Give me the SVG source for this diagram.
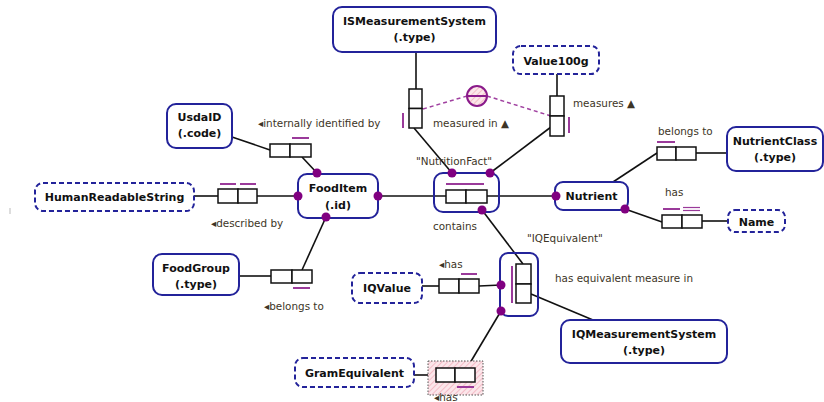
<svg xmlns="http://www.w3.org/2000/svg" width="824" height="402" viewBox="0 0 824 402">
  <style>
    .et { fill: #fff; stroke: #23239a; stroke-width: 2; }
    .vt { fill: #fff; stroke: #23239a; stroke-width: 2; stroke-dasharray: 5 3; }
    .obj { fill: none; stroke: #23239a; stroke-width: 2; }
    .role { fill: #fff; stroke: #111; stroke-width: 1.5; }
    .ln { stroke: #111; stroke-width: 1.6; fill: none; }
    .uc { stroke: #9a3a9a; stroke-width: 2; fill: none; }
    .dot { fill: #800080; }
    .cn { stroke: #a040a0; stroke-width: 1.5; stroke-dasharray: 4 3; fill: none; }
    .name { font-family: "DejaVu Sans", Verdana, sans-serif; font-size: 11px; font-weight: bold; fill: #111; text-anchor: middle; }
    .rd { font-family: "DejaVu Sans", Verdana, sans-serif; font-size: 10.4px; fill: #3d3526; }
  </style>
  <defs>
    <pattern id="hatch" width="4" height="4" patternUnits="userSpaceOnUse" patternTransform="rotate(45)">
      <rect width="4" height="4" fill="#fbe6ea"/>
      <line x1="0" y1="0" x2="0" y2="4" stroke="#f0a0b0" stroke-width="1.2"/>
    </pattern>
  </defs>

  <!-- stray tick mark -->
  <line x1="10" y1="208" x2="10" y2="214" stroke="#bbb" stroke-width="1"/>

  <!-- connectors -->
  <g id="connectors">
    <line class="ln" x1="416" y1="52" x2="416" y2="89"/>
    <line class="ln" x1="414" y1="128" x2="452" y2="173"/>
    <line class="ln" x1="557" y1="74" x2="557" y2="96"/>
    <line class="ln" x1="551" y1="127" x2="490" y2="173"/>
    <line class="ln" x1="232" y1="137" x2="270" y2="150"/>
    <line class="ln" x1="302" y1="157" x2="317" y2="173"/>
    <line class="ln" x1="194" y1="196" x2="218" y2="196"/>
    <line class="ln" x1="257" y1="196" x2="298" y2="196"/>
    <line class="ln" x1="378" y1="196" x2="446" y2="196"/>
    <line class="ln" x1="487" y1="196" x2="556" y2="196"/>
    <line class="ln" x1="239" y1="276" x2="271" y2="276"/>
    <line class="ln" x1="302" y1="270" x2="326" y2="217"/>
    <line class="ln" x1="613" y1="182" x2="657" y2="153"/>
    <line class="ln" x1="696" y1="153" x2="727" y2="153"/>
    <line class="ln" x1="625" y1="209" x2="662" y2="222"/>
    <line class="ln" x1="702" y1="221" x2="728" y2="221"/>
    <line class="ln" x1="482" y1="210" x2="523" y2="264"/>
    <line class="ln" x1="422" y1="286" x2="439" y2="286"/>
    <line class="ln" x1="479" y1="286" x2="501" y2="285"/>
    <line class="ln" x1="531" y1="294" x2="593" y2="320"/>
    <line class="ln" x1="501" y1="311" x2="467" y2="368"/>
    <line class="ln" x1="414" y1="375" x2="436" y2="375"/>
    <!-- constraint links -->
    <line class="cn" x1="423" y1="109" x2="467" y2="96"/>
    <line class="cn" x1="487" y1="96" x2="551" y2="116"/>
  </g>

  <!-- entity and value types -->
  <g id="ISMeasurementSystem">
    <rect class="et" x="333" y="7" width="163" height="45" rx="9"/>
    <text class="name" x="414.5" y="25">ISMeasurementSystem</text>
    <text class="name" x="414.5" y="41">(.type)</text>
  </g>
  <g id="Value100g">
    <rect class="vt" x="513" y="46" width="86" height="28" rx="8"/>
    <text class="name" x="556" y="64.5">Value100g</text>
  </g>
  <g id="UsdaID">
    <rect class="et" x="167" y="104" width="65" height="44" rx="9"/>
    <text class="name" x="199.5" y="121">UsdaID</text>
    <text class="name" x="199.5" y="137">(.code)</text>
  </g>
  <g id="HumanReadableString">
    <rect class="vt" x="35" y="183" width="159" height="28" rx="8"/>
    <text class="name" x="114.5" y="201">HumanReadableString</text>
  </g>
  <g id="FoodItem">
    <rect class="et" x="298" y="174" width="80" height="44" rx="9"/>
    <text class="name" x="338" y="192">FoodItem</text>
    <text class="name" x="338" y="209">(.id)</text>
  </g>
  <g id="FoodGroup">
    <rect class="et" x="153" y="254" width="86" height="41" rx="9"/>
    <text class="name" x="196" y="272">FoodGroup</text>
    <text class="name" x="196" y="288">(.type)</text>
  </g>
  <g id="IQValue">
    <rect class="vt" x="352" y="273" width="70" height="30" rx="8"/>
    <text class="name" x="387" y="292">IQValue</text>
  </g>
  <g id="GramEquivalent">
    <rect class="vt" x="295" y="358" width="119" height="29" rx="8"/>
    <text class="name" x="354.5" y="377">GramEquivalent</text>
  </g>
  <g id="Nutrient">
    <rect class="et" x="555" y="182" width="73" height="28" rx="8"/>
    <text class="name" x="591.5" y="200">Nutrient</text>
  </g>
  <g id="NutrientClass">
    <rect class="et" x="727" y="127" width="96" height="44" rx="9"/>
    <text class="name" x="775" y="145">NutrientClass</text>
    <text class="name" x="775" y="161">(.type)</text>
  </g>
  <g id="Name">
    <rect class="vt" x="728" y="210" width="57" height="22" rx="7"/>
    <text class="name" x="756.5" y="225.5">Name</text>
  </g>
  <g id="IQMeasurementSystem">
    <rect class="et" x="561" y="320" width="166" height="43" rx="9"/>
    <text class="name" x="644" y="338">IQMeasurementSystem</text>
    <text class="name" x="644" y="354">(.type)</text>
  </g>

  <!-- fact types -->
  <g id="MeasuredIn">
    <rect class="role" x="409" y="89" width="13" height="19.5"/>
    <rect class="role" x="409" y="108.5" width="13" height="19.5"/>
    <line class="uc" x1="403" y1="113" x2="403" y2="128"/>
    <text class="rd" x="433" y="127">measured in ▲</text>
  </g>
  <g id="Measures">
    <rect class="role" x="550" y="96" width="14" height="20"/>
    <rect class="role" x="550" y="116" width="14" height="20"/>
    <line class="uc" x1="569" y1="117" x2="569" y2="133"/>
    <text class="rd" x="573" y="107">measures ▲</text>
  </g>
  <g id="ExclusionConstraint">
    <circle cx="477" cy="96" r="10" fill="url(#hatch)" stroke="#8a1a8a" stroke-width="2"/>
    <line x1="467" y1="96" x2="487" y2="96" stroke="#8a1a8a" stroke-width="2"/>
  </g>
  <g id="InternallyIdentifiedBy">
    <rect class="role" x="270" y="144" width="20" height="13"/>
    <rect class="role" x="290" y="144" width="21" height="13"/>
    <line class="uc" x1="292" y1="138" x2="309" y2="138"/>
    <text class="rd" x="258" y="127">◂internally identified by</text>
  </g>
  <g id="DescribedBy">
    <rect class="role" x="218" y="189" width="20" height="14"/>
    <rect class="role" x="238" y="189" width="19" height="14"/>
    <line class="uc" x1="220" y1="184" x2="236" y2="184"/>
    <line class="uc" x1="240" y1="184" x2="256" y2="184"/>
    <text class="rd" x="211" y="227">◂described by</text>
  </g>
  <g id="FoodGroupBelongsTo">
    <rect class="role" x="271" y="270" width="21" height="13"/>
    <rect class="role" x="292" y="270" width="20" height="13"/>
    <line class="uc" x1="293" y1="288" x2="310" y2="288"/>
    <text class="rd" x="264" y="310">◂belongs to</text>
  </g>
  <g id="NutritionFact">
    <rect class="obj" x="434" y="173" width="65" height="39" rx="9"/>
    <rect class="role" x="446" y="190" width="20" height="13"/>
    <rect class="role" x="466" y="190" width="21" height="13"/>
    <line class="uc" x1="446" y1="184" x2="484" y2="184"/>
    <text class="rd" x="454" y="165" text-anchor="middle">"NutritionFact"</text>
    <text class="rd" x="433" y="230">contains</text>
  </g>
  <g id="NutrientBelongsTo">
    <rect class="role" x="657" y="147" width="19" height="13"/>
    <rect class="role" x="676" y="147" width="20" height="13"/>
    <line class="uc" x1="657" y1="142" x2="675" y2="142"/>
    <text class="rd" x="658" y="135">belongs to</text>
  </g>
  <g id="NutrientHas">
    <rect class="role" x="662" y="215" width="20" height="13"/>
    <rect class="role" x="682" y="215" width="20" height="13"/>
    <line class="uc" x1="663" y1="209" x2="680" y2="209"/>
    <line x1="683" y1="207.5" x2="700" y2="207.5" stroke="#9a3a9a" stroke-width="1.2"/>
    <line x1="683" y1="210.5" x2="700" y2="210.5" stroke="#9a3a9a" stroke-width="1.2"/>
    <text class="rd" x="665" y="196">has</text>
  </g>
  <g id="IQEquivalent">
    <rect class="obj" x="500" y="253" width="38" height="63" rx="8"/>
    <rect class="role" x="516" y="264" width="15" height="20"/>
    <rect class="role" x="516" y="284" width="15" height="19"/>
    <line class="uc" x1="512" y1="266" x2="512" y2="303"/>
    <text class="rd" x="527" y="242">"IQEquivalent"</text>
    <text class="rd" x="555" y="282">has equivalent measure in</text>
  </g>
  <g id="IQValueHas">
    <rect class="role" x="439" y="279" width="20" height="14"/>
    <rect class="role" x="459" y="279" width="20" height="14"/>
    <line class="uc" x1="461" y1="274" x2="477" y2="274"/>
    <text class="rd" x="439" y="268">◂has</text>
  </g>
  <g id="GramEquivalentHas">
    <rect x="428" y="361" width="55" height="34" fill="url(#hatch)" stroke="#555" stroke-width="1" stroke-dasharray="1.5 1.5"/>
    <rect class="role" x="436" y="368" width="19" height="14"/>
    <rect class="role" x="455" y="368" width="20" height="14"/>
    <line class="uc" x1="457" y1="387" x2="474" y2="387"/>
    <text class="rd" x="434" y="400.5">◂has</text>
  </g>

  <!-- role connection points -->
  <g id="joins">
    <circle class="dot" cx="317" cy="173" r="4.5"/>
    <circle class="dot" cx="298" cy="196" r="4.5"/>
    <circle class="dot" cx="378" cy="196" r="4.5"/>
    <circle class="dot" cx="326" cy="217" r="4.5"/>
    <circle class="dot" cx="452" cy="173" r="4.5"/>
    <circle class="dot" cx="490" cy="173" r="4.5"/>
    <circle class="dot" cx="482" cy="210" r="4.5"/>
    <circle class="dot" cx="556" cy="196" r="4.5"/>
    <circle class="dot" cx="625" cy="209" r="4.5"/>
    <circle class="dot" cx="501" cy="285" r="4.5"/>
    <circle class="dot" cx="501" cy="311" r="4.5"/>
  </g>
</svg>
